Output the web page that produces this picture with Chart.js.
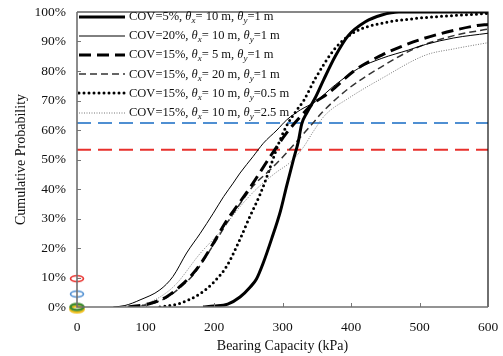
<!DOCTYPE html>
<html>
<head>
<meta charset="utf-8">
<script src="https://cdn.jsdelivr.net/npm/chart.js@4/dist/chart.umd.min.js"></script>
<style>
  body { margin: 0; background: #fff; }
  #wrap { position: relative; width: 503px; height: 356px; }
  #legend { position: absolute; left: 78px; top: 7px; font-family: 'Liberation Serif', 'Times New Roman', serif; font-size: 12.5px; color: #111; }
  .row { display: flex; align-items: center; height: 19.2px; white-space: nowrap; }
  .row svg { flex: none; }
  .row span { margin-left: 3px; }
  sub { font-size: 72%; vertical-align: -0.3em; line-height: 0; font-style: italic; }
</style>
</head>
<body>
<div id="wrap">
  <canvas id="cdf" width="503" height="356"></canvas>
  <div id="legend"></div>
</div>
<script>
// Cumulative probability of bearing capacity, six random field cases
const covs = ['5%', '20%', '15%', '15%', '15%', '15%'];
const thetaX = [10, 10, 5, 20, 10, 10];
const thetaY = [1, 1, 1, 1, 0.5, 2.5];

// bearing capacity (kPa) / cumulative probability (%)
const cap1 = [184, 200, 220, 238, 253, 262, 272, 284, 297, 306, 316, 323, 328, 336, 348, 360, 377, 396, 421, 445, 470, 600];
const prob1 = [0, 0.3, 1, 3.4, 6.8, 9.5, 15, 23, 32.5, 41, 50, 56, 62, 66, 71, 77, 85, 92, 96.7, 99, 100, 100];

const cap2 = [53, 70, 92, 121, 140, 160, 180, 199, 214, 228, 238, 257, 272, 292, 306, 326, 348, 377, 411, 445, 484, 509, 550, 600];
const prob2 = [0, 0.5, 2.4, 5.8, 10.3, 18.3, 25, 31.8, 37.4, 42, 45.4, 51, 55.5, 60, 63.4, 66.8, 69.6, 75.3, 80.9, 84.3, 87.1, 89, 91.2, 92.8];

const cap3 = [75, 107, 131, 150, 170, 184, 199, 219, 233, 257, 282, 306, 326, 345, 367, 406, 445, 479, 499, 540, 584, 600];
const prob3 = [0, 1.2, 3.5, 6.9, 11.5, 15.9, 21.6, 29.5, 34, 42, 51, 59, 64.5, 69, 72.5, 80.3, 85.4, 88.8, 90.5, 93.2, 95.4, 95.8];

const cap4 = [78, 107, 131, 150, 170, 199, 219, 238, 257, 282, 301, 326, 345, 358, 396, 445, 494, 550, 600];
const prob4 = [0, 1, 3.2, 6.5, 11, 21, 28.5, 35, 41, 46.5, 51, 57.5, 62.5, 66, 74, 81.5, 87.7, 92, 94.2];

const cap5 = [121, 150, 180, 200, 219, 238, 253, 267, 280, 292, 305, 320, 331, 348, 377, 406, 445, 494, 550, 600];
const prob5 = [0, 1.2, 4.6, 8.5, 14, 23, 31, 38, 46, 54, 61, 66.5, 70, 77.5, 87.7, 93.3, 96.2, 97.8, 98.8, 99.5];

const cap6 = [70, 102, 141, 180, 209, 238, 262, 290, 311, 330, 345, 362, 396, 445, 509, 550, 600];
const prob6 = [0, 1.2, 6.9, 18.2, 25.5, 34, 40, 45.5, 49, 54, 59.5, 65, 70.7, 77.5, 85.4, 87.5, 89.6];

// horizontal reference levels (%)
const refLevels = [62.4, 53.3];
const refColors = ['#4f8fd2', '#e8302c'];
const capRange = [0, 600];

// ellipse markers on the y axis
const markerLevels = [9.6, 4.4, -0.7, 0];
const markerColors = ['#e8302c', '#4f8fd2', '#f0c020', '#3c8a2e'];
const markerWidths = [1.6, 1.6, 3, 2.6];

const curveCaps = [cap1, cap2, cap3, cap4, cap5, cap6];
const curveProbs = [prob1, prob2, prob3, prob4, prob5, prob6];
const curveStyles = [
  { color: '#000', width: 3, dash: [], cap: 'butt' },
  { color: '#000', width: 1, dash: [], cap: 'butt' },
  { color: '#000', width: 3, dash: [12, 6], cap: 'butt' },
  { color: '#333', width: 1.5, dash: [7, 4], cap: 'butt' },
  { color: '#000', width: 3, dash: [0, 5], cap: 'round' },
  { color: '#777', width: 1, dash: [1, 1.5], cap: 'butt' }
];

const serif = "'Liberation Serif', 'Times New Roman', serif";

function zip(xs, ys) { return xs.map((x, i) => ({ x, y: ys[i] })); }

function ellipseMarker(color, lw) {
  const c = document.createElement('canvas'); c.width = 18; c.height = 11;
  const g = c.getContext('2d');
  g.strokeStyle = color; g.lineWidth = lw;
  g.beginPath(); g.ellipse(9, 5.5, 6.5, 3, 0, 0, Math.PI * 2); g.stroke();
  return c;
}

const datasets = [];
curveCaps.forEach((caps, i) => {
  const s = curveStyles[i];
  datasets.push({
    label: `COV=${covs[i]}, θx= ${thetaX[i]} m, θy=${thetaY[i]} m`,
    data: zip(caps, curveProbs[i]),
    borderColor: s.color, borderWidth: s.width, borderDash: s.dash, borderCapStyle: s.cap,
    pointRadius: 0, cubicInterpolationMode: 'monotone', fill: false
  });
});
refLevels.forEach((lvl, i) => {
  datasets.push({
    label: 'ref' + i,
    data: capRange.map(x => ({ x, y: lvl })),
    borderColor: refColors[i], borderWidth: 2, borderDash: [14, 7],
    pointRadius: 0, fill: false
  });
});
datasets.push({
  type: 'scatter', label: 'markers',
  data: markerLevels.map(y => ({ x: 0, y })),
  pointStyle: markerColors.map((c, i) => ellipseMarker(c, markerWidths[i])),
  pointRadius: 6, clip: false
});

// frame and inward ticks
const framePlugin = {
  id: 'frame',
  afterDatasetsDraw(chart) {
    const { ctx, chartArea: { left, right, top, bottom }, scales: { x, y } } = chart;
    ctx.save();
    ctx.strokeStyle = '#777'; ctx.lineWidth = 1;
    x.ticks.forEach(t => {
      if (t.value <= capRange[0] || t.value >= capRange[1]) return;
      const px = Math.round(x.getPixelForValue(t.value)) + 0.5;
      ctx.beginPath(); ctx.moveTo(px, bottom); ctx.lineTo(px, bottom - 4); ctx.stroke();
    });
    y.ticks.forEach(t => {
      if (t.value <= 0 || t.value >= 100) return;
      const py = Math.round(y.getPixelForValue(t.value)) + 0.5;
      ctx.beginPath(); ctx.moveTo(left, py); ctx.lineTo(left + 4, py); ctx.stroke();
    });
    ctx.strokeStyle = '#111'; ctx.lineWidth = 1.2;
    ctx.beginPath(); ctx.moveTo(left, top); ctx.lineTo(right, top); ctx.lineTo(right, bottom); ctx.stroke();
    ctx.strokeStyle = '#707070'; ctx.lineWidth = 1.6;
    ctx.beginPath(); ctx.moveTo(left, top); ctx.lineTo(left, bottom); ctx.lineTo(right, bottom); ctx.stroke();
    ctx.restore();
  }
};

new Chart(document.getElementById('cdf'), {
  type: 'line',
  data: { datasets },
  plugins: [framePlugin],
  options: {
    responsive: false, animation: false,
    layout: { autoPadding: false, padding: { top: 12, right: 15, left: 0, bottom: 0 } },
    plugins: { legend: { display: false }, tooltip: { enabled: false } },
    scales: {
      x: {
        type: 'linear', min: capRange[0], max: capRange[1],
        afterFit: s => { s.height = 49; s.paddingLeft = 0; s.paddingRight = 0; },
        grid: { display: false, drawTicks: false }, border: { display: false },
        ticks: { stepSize: 100, padding: 12, color: '#111', font: { family: serif, size: 13.5 } },
        title: { display: true, text: 'Bearing Capacity (kPa)', color: '#111', padding: { top: 0, bottom: 1 }, font: { family: serif, size: 14 } }
      },
      y: {
        min: 0, max: 100,
        afterFit: s => { s.width = 77; s.paddingTop = 0; s.paddingBottom = 0; },
        grid: { display: false, drawTicks: false }, border: { display: false },
        ticks: { stepSize: 10, padding: 11, color: '#111', font: { family: serif, size: 13.5 }, callback: v => v + '%' },
        title: { display: true, text: 'Cumulative Probability', color: '#111', padding: { top: 13, bottom: 0 }, font: { family: serif, size: 14 } }
      }
    }
  }
});

// legend with italic theta and subscripts
const legendEl = document.getElementById('legend');
curveStyles.forEach((s, i) => {
  const row = document.createElement('div'); row.className = 'row';
  const dash = s.dash.length ? ` stroke-dasharray="${s.dash.join(' ')}"` : '';
  row.innerHTML = `<svg width="48" height="10"><line x1="1" y1="5" x2="47" y2="5" stroke="${s.color}" stroke-width="${s.width}" stroke-linecap="${s.cap}"${dash}/></svg>` +
    `<span>COV=${covs[i]}, <i>θ</i><sub>x</sub>= ${thetaX[i]} m, <i>θ</i><sub>y</sub>=${thetaY[i]} m</span>`;
  legendEl.appendChild(row);
});
</script>
</body>
</html>
